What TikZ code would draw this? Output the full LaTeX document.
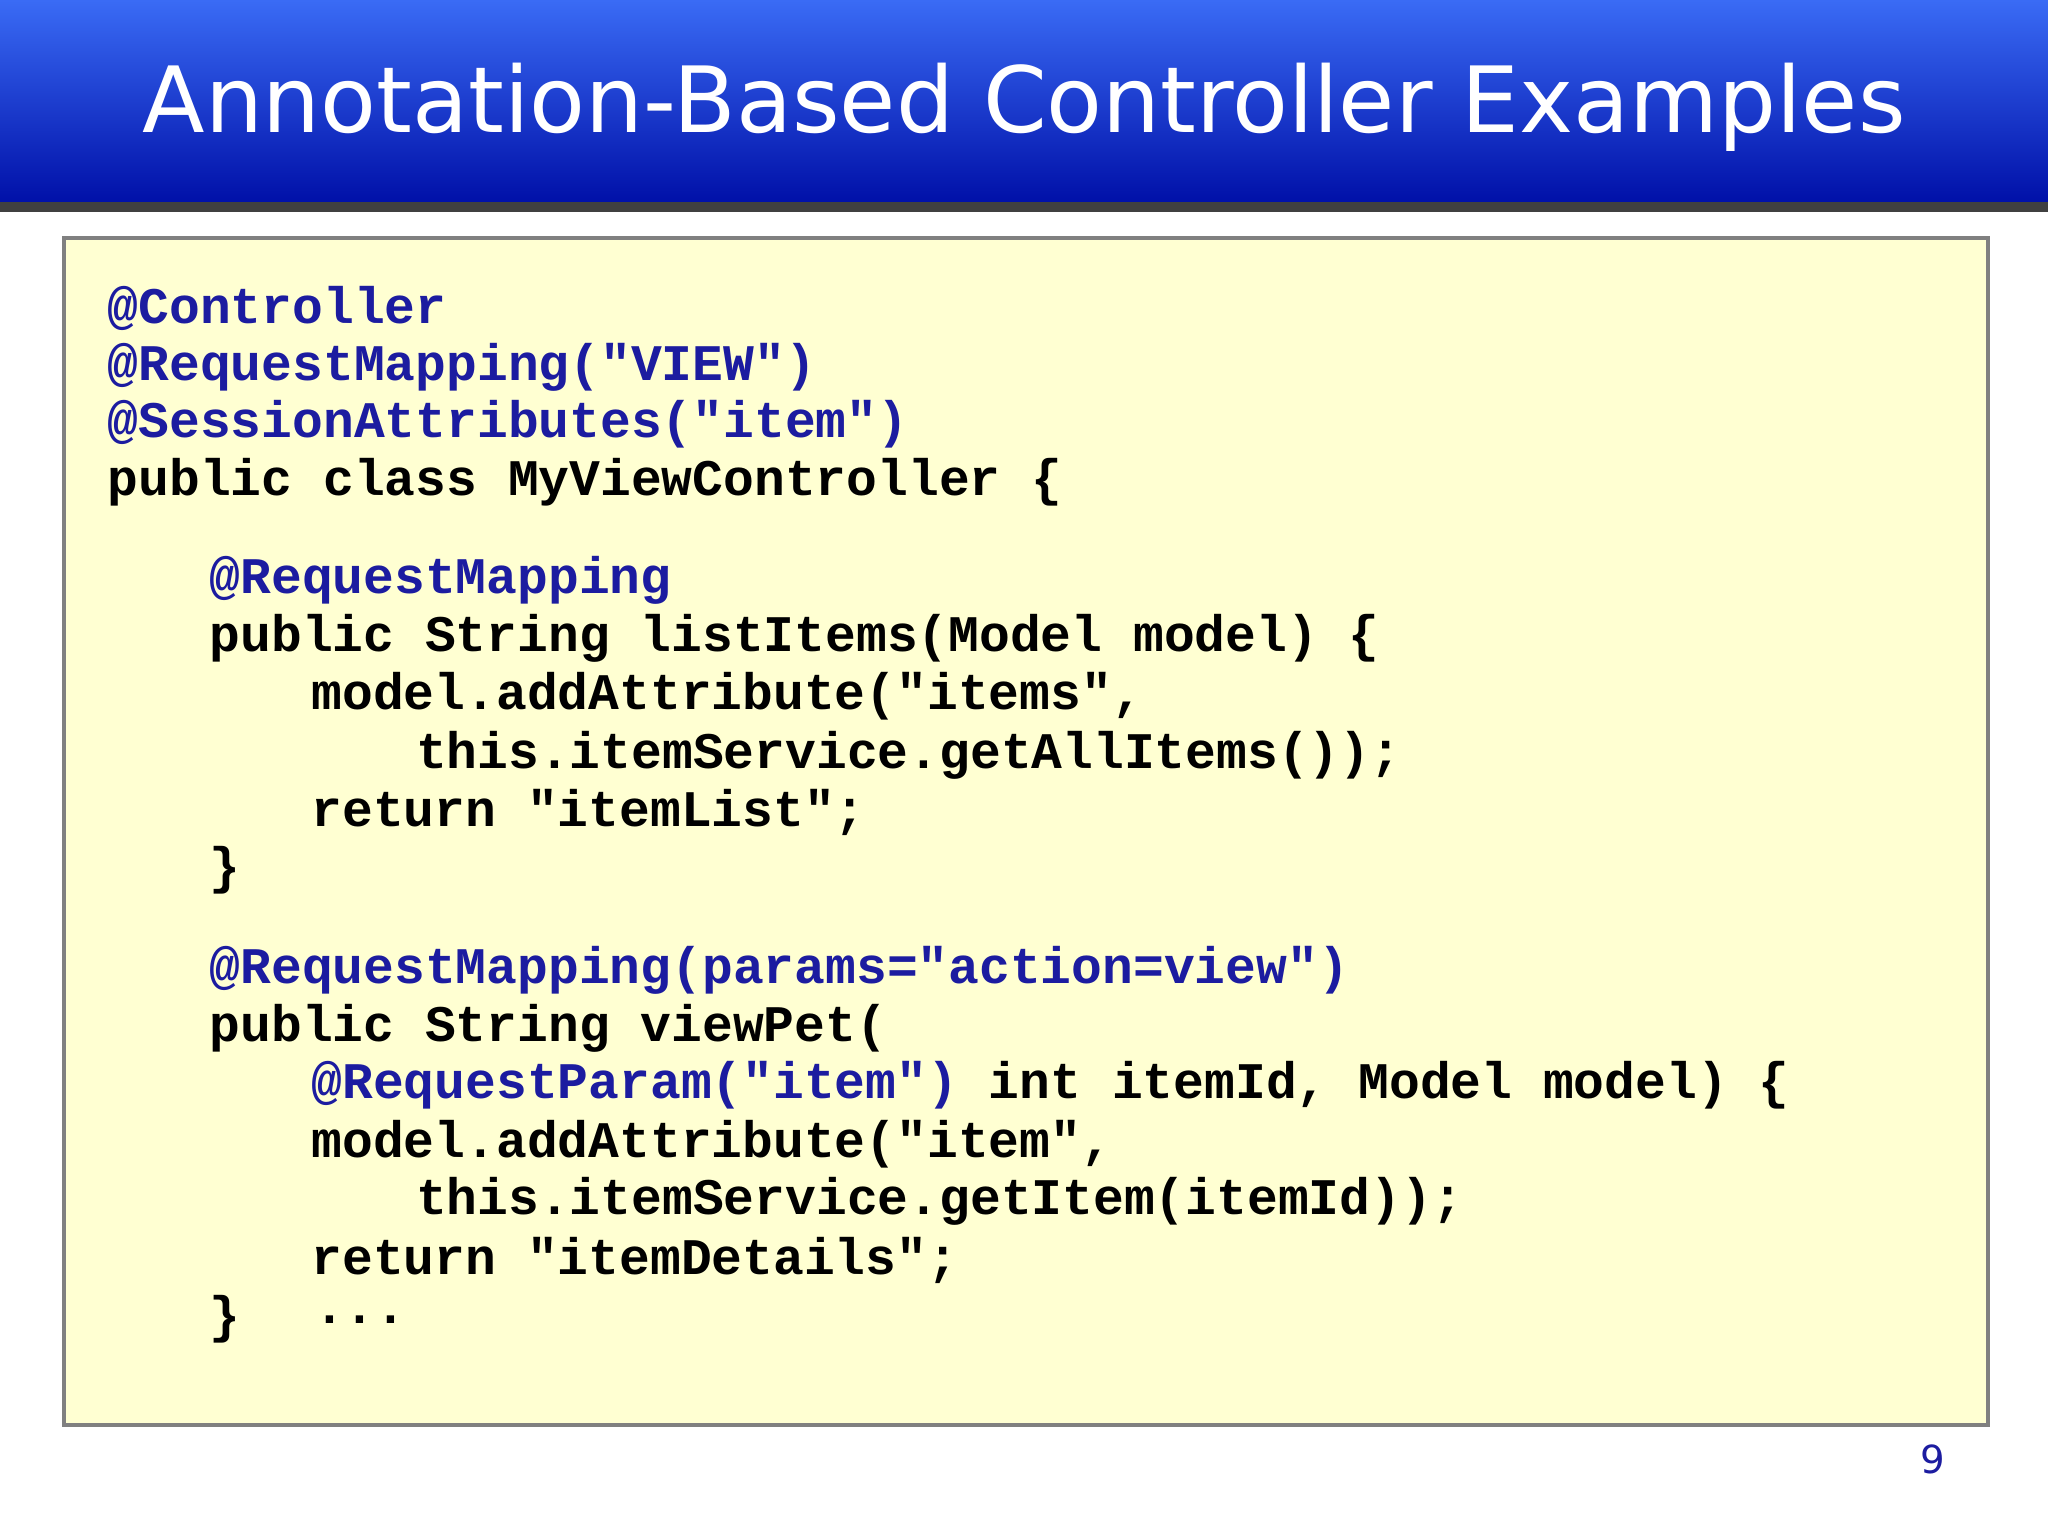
\documentclass[tikz,border=0pt]{standalone}
\usepackage{fontspec}
\setsansfont{DejaVu Sans}
\setmonofont{Liberation Mono}
\definecolor{hdtop}{HTML}{3A6BF5}
\definecolor{hdbot}{HTML}{0010A8}
\definecolor{boxbg}{HTML}{FFFFD2}
\definecolor{anno}{HTML}{1C1CA0}
\begin{document}
\begin{tikzpicture}[x=0.01306cm,y=-0.01306cm,
  code/.style={anchor=west,inner sep=0pt,font=\ttfamily\bfseries\fontsize{14.6pt}{16pt}\selectfont},
  ann/.style={code,text=anno}]
\useasboundingbox (0,0) rectangle (1568,1176);
\fill[white] (0,0) rectangle (1568,1176);
\shade[top color=hdtop,bottom color=hdbot] (0,0) rectangle (1568,155);
\fill[black!75] (0,155) rectangle (1568,162);
\node[text=white,font=\sffamily\fontsize{26pt}{30pt}\selectfont] (title) at (784,82) {Annotation-Based Controller Examples};
\draw[line width=1.1pt,draw=black!50,fill=boxbg] (49,182) rectangle (1522,1091);
\node[ann] (l1) at (82,236) {@Controller};
\node[ann] (l2) at (82,281) {@RequestMapping("VIEW")};
\node[ann] (l3) at (82,325) {@SessionAttributes("item")};
\node[code] (l4) at (82,369) {public class MyViewController \{};
\node[ann] (l5) at (160,444) {@RequestMapping};
\node[code] (l6) at (160,489) {public String listItems(Model model) \{};
\node[code] (l7) at (238,533) {model.addAttribute("items",};
\node[code] (l8) at (318,578) {this.itemService.getAllItems());};
\node[code] (l9) at (238,622) {return "itemList";};
\node[code] (l10) at (160,666) {\}};
\node[ann] (l11) at (160,743) {@RequestMapping(params="action=view")};
\node[code] (l12) at (160,787) {public String viewPet(};
\node[code] (l13) at (238,831) {\textcolor{anno}{@RequestParam("item")} int itemId, Model model) \{};
\node[code] (l14) at (238,876) {model.addAttribute("item",};
\node[code] (l15) at (318,920) {this.itemService.getItem(itemId));};
\node[code] (l16) at (238,965) {return "itemDetails";};
\node[code] (l17) at (160,1010) {\}};
\node[code] (l18) at (240,1010) {...};
\node[text=anno,font=\sffamily\fontsize{11pt}{12pt}\selectfont] (pg) at (1480,1117) {9};
\end{tikzpicture}
\end{document}
